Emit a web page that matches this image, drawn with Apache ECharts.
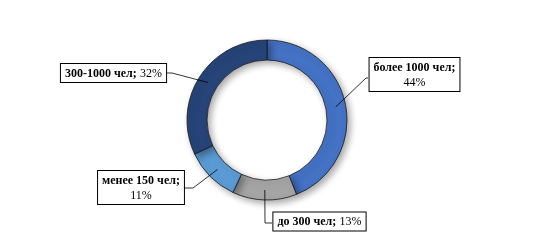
<!DOCTYPE html>
<html>
<head>
<meta charset="utf-8">
<script src="https://cdn.jsdelivr.net/npm/echarts@6/dist/echarts.min.js"></script>
<style>html,body{margin:0;padding:0;background:#fff}#c{width:547px;height:240px}</style>
</head>
<body>
<div id="c"></div>
<script>
var categories = ['более 1000 чел', 'до 300 чел', 'менее 150 чел', '300-1000 чел'];
var values = [44, 13, 11, 32];
var percentLabels = ['44%', '13%', '11%', '32%'];
var colors = ['#4472C4', '#A5A5A5', '#5B9BD5', '#264478'];

// layout (label box centers and leader-line bends)
var CX = 267, CY = 120, R_IN = 60, R_OUT = 80;
var twoLine = [true, false, true, false];
var boxCenters = [[414.5, 74.5], [319.5, 221.5], [141, 187.5], [113.5, 73]];
var bends = [[[366, 78], [368, 78]], [[265, 223], [272, 223]], [[193, 188], [185, 188]], [[172, 73], [165, 73]]];

var total = values.reduce(function (a, b) { return a + b; }, 0);
function midPoint(i) {
  var before = 0;
  for (var k = 0; k < i; k++) before += values[k];
  var ang = (before + values[i] / 2) / total * 2 * Math.PI;
  var r = (R_IN + R_OUT) / 2;
  return [CX + r * Math.sin(ang), CY - r * Math.cos(ang)];
}

var baseData = categories.map(function (c, i) {
  return { name: c, value: values[i], itemStyle: { color: colors[i] } };
});

var chart = echarts.init(document.getElementById('c'));
chart.setOption({
  animation: false,
  series: [{
    type: 'pie',
    z: 2,
    center: [CX, CY],
    radius: [R_IN, R_OUT],
    startAngle: 90,
    clockwise: true,
    silent: true,
    emphasis: { disabled: true },
    data: baseData,
    itemStyle: {
      borderColor: '#1a1a1a',
      borderWidth: 0.8,
      shadowBlur: 7,
      shadowOffsetX: 3,
      shadowOffsetY: 3,
      shadowColor: 'rgba(0,0,0,0.35)'
    },
    label: { show: false },
    labelLine: { show: false }
  }, {
    type: 'pie',
    z: 5,
    center: [CX, CY],
    radius: [R_IN, R_OUT],
    startAngle: 90,
    clockwise: true,
    silent: true,
    avoidLabelOverlap: false,
    emphasis: { disabled: true },
    data: categories.map(function (c, i) { return { name: c, value: values[i] }; }),
    itemStyle: { color: 'rgba(0,0,0,0)', borderWidth: 0 },
    label: {
      show: true,
      position: 'outside',
      formatter: function (p) {
        var i = p.dataIndex;
        return '{b|' + categories[i] + ';}' + (twoLine[i] ? '\n' : ' ') + '{n|' + percentLabels[i] + '}';
      },
      backgroundColor: '#fff',
      borderColor: '#000',
      borderWidth: 1,
      padding: [2, 4, 1, 4],
      align: 'center',
      lineHeight: 15,
      rich: {
        b: { fontFamily: 'Liberation Serif', fontWeight: 'bold', fontSize: 12, color: '#000', lineHeight: 15 },
        n: { fontFamily: 'Liberation Serif', fontWeight: 'normal', fontSize: 12, color: '#000', lineHeight: 15 }
      }
    },
    labelLine: {
      show: true,
      lineStyle: { color: '#000', width: 0.8 }
    },
    labelLayout: function (params) {
      var i = params.dataIndex;
      var s = midPoint(i);
      return {
        x: boxCenters[i][0],
        y: boxCenters[i][1],
        align: 'center',
        verticalAlign: 'middle',
        labelLinePoints: [s, bends[i][0], bends[i][1]]
      };
    }
  }]
});
</script>
</body>
</html>
